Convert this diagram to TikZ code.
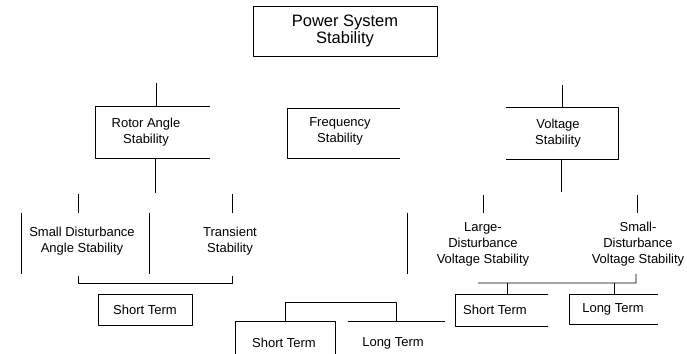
\documentclass[tikz,border=0pt]{standalone}
\usepackage{fontspec}
\setmainfont{Liberation Sans}
\tikzset{
  lbl/.style={align=center,inner sep=0pt,font=\fontsize{13bp}{16bp}\selectfont},
  frame/.style={inner sep=0pt,draw=none},
}
\begin{document}
\begin{tikzpicture}[line join=bevel,line width=0.9bp]
\useasboundingbox (0bp,0bp) rectangle (687bp,354bp);
%%
\node (node_power) at (345.0bp,323.0bp) [draw,minimum width=184bp,minimum height=50bp,align=center,inner sep=0pt,font=\fontsize{16.5bp}{17bp}\selectfont] {Power System\\Stability};
  \node (box_rotor) at (153.0bp,221.5bp) [frame,minimum width=114bp,minimum height=51bp] {};
  \node (box_freq) at (344.0bp,220.5bp) [frame,minimum width=112bp,minimum height=49bp] {};
  \node (box_volt) at (562.0bp,220.5bp) [frame,minimum width=112bp,minimum height=51bp] {};
  \node (box_sdas) at (85.5bp,110.5bp) [frame,minimum width=127bp,minimum height=61bp] {};
  \node (box_lvs) at (483.0bp,110.5bp) [frame,minimum width=150bp,minimum height=61bp] {};
  \node (box_st_f) at (285.5bp,16.0bp) [frame,minimum width=99bp,minimum height=32bp] {};
  \node (box_lt_f) at (396.5bp,16.0bp) [frame,minimum width=97bp,minimum height=32bp] {};
  \node (box_st_v) at (502.0bp,43.5bp) [frame,minimum width=92bp,minimum height=31bp] {};
  \node (box_lt_v) at (614.0bp,44.5bp) [frame,minimum width=88bp,minimum height=29bp] {};
%
  \node (node_rotor) at (146.0bp,222.0bp) [lbl] {Rotor Angle\\Stability};
  \node (node_freq) at (340.0bp,223.0bp) [lbl] {Frequency\\Stability};
  \node (node_volt) at (558.0bp,220.5bp) [lbl] {Voltage\\Stability};
  \node (node_sdas) at (82.0bp,113.0bp) [lbl] {Small Disturbance\\Angle Stability};
  \node (node_trans) at (230.0bp,113.0bp) [lbl] {Transient\\Stability};
  \node (node_lvs) at (483.0bp,110.0bp) [lbl] {Large-\\Disturbance\\Voltage Stability};
  \node (node_svs) at (638.0bp,110.0bp) [lbl] {Small-\\Disturbance\\Voltage Stability};
  \node (node_st_a) at (145.0bp,44.5bp) [draw,lbl,minimum width=94bp,minimum height=31bp] {Short Term};
  \node (node_st_f) at (284.0bp,11.0bp) [lbl] {Short Term};
  \node (node_lt_f) at (393.0bp,11.0bp) [lbl] {Long Term};
  \node (node_st_v) at (495.0bp,44.0bp) [lbl] {Short Term};
  \node (node_lt_v) at (613.0bp,45.0bp) [lbl] {Long Term};
%
  \coordinate (c_rotor_in) at (156.0bp,271.0bp);
  \coordinate (c_rotor_out) at (155.0bp,161.0bp);
  \coordinate (c_volt_in) at (562.0bp,269.0bp);
  \coordinate (c_volt_out) at (561.0bp,162.0bp);
  \coordinate (c_sdas_in) at (78.0bp,160.0bp);
  \coordinate (c_trans_in) at (232.0bp,160.0bp);
  \coordinate (c_lvs_in) at (483.0bp,159.0bp);
  \coordinate (c_svs_in) at (637.0bp,159.0bp);
  \coordinate (c_sdas_out) at (78.0bp,78.0bp);
  \coordinate (c_trans_out) at (232.0bp,78.0bp);
  \coordinate (c_svs_out) at (636.0bp,80.0bp);
  \coordinate (c_volt_join) at (478.0bp,71.0bp);
  \coordinate (c_st_v_in) at (507.0bp,71.0bp);
  \coordinate (c_lt_v_in) at (614.0bp,71.0bp);
  \coordinate (c_st_f_in) at (285.0bp,52.0bp);
  \coordinate (c_lt_f_in) at (396.0bp,52.0bp);
%
  \draw [black] (box_rotor.north east) -- (box_rotor.north west) -- (box_rotor.south west) -- (box_rotor.south east);
  \draw [black] (box_freq.north east) -- (box_freq.north west) -- (box_freq.south west) -- (box_freq.south east);
  \draw [black] (box_volt.north west) -- (box_volt.north east) -- (box_volt.south east) -- (box_volt.south west);
  \draw [black] (box_sdas.north west) -- (box_sdas.south west);
  \draw [black] (box_sdas.north east) -- (box_sdas.south east);
  \draw [black] (box_lvs.north west) -- (box_lvs.south west);
  \draw [black] (box_st_f.south west) -- (box_st_f.north west) -- (box_st_f.north east) -- (box_st_f.south east);
  \draw [black] (box_lt_f.north west) -- (box_lt_f.north east);
  \draw [black] (box_st_v.north east) -- (box_st_v.north west) -- (box_st_v.south west) -- (box_st_v.south east);
  \draw [black] (box_lt_v.north east) -- (box_lt_v.north west) -- (box_lt_v.south west) -- (box_lt_v.south east);
%
  \draw [black] (c_rotor_in) -- (c_rotor_in |- box_rotor.north);
  \draw [black] (c_rotor_out |- box_rotor.south) -- (c_rotor_out);
  \draw [black] (c_volt_in) -- (c_volt_in |- box_volt.north);
  \draw [black] (c_volt_out |- box_volt.south) -- (c_volt_out);
  \draw [black] (c_sdas_in) -- (c_sdas_in |- box_sdas.north);
  \draw [black] (c_trans_in) -- (c_trans_in |- box_sdas.north);
  \draw [black] (c_lvs_in) -- (c_lvs_in |- box_lvs.north);
  \draw [black] (c_svs_in) -- (c_svs_in |- box_lvs.north);
  \draw [black] (c_sdas_out) -- ++(0bp,-7bp) -| (c_trans_out);
  \draw [black] (c_svs_out) -- ++(0bp,-9bp) -- (c_volt_join);
  \draw [black] (c_st_v_in) -- (c_st_v_in |- box_st_v.north);
  \draw [black] (c_lt_v_in) -- (c_lt_v_in |- box_lt_v.north);
  \draw [black] (c_st_f_in |- box_st_f.north) -- (c_st_f_in) -- (c_lt_f_in) -- (c_lt_f_in |- box_lt_f.north);
%
\end{tikzpicture}
\end{document}
